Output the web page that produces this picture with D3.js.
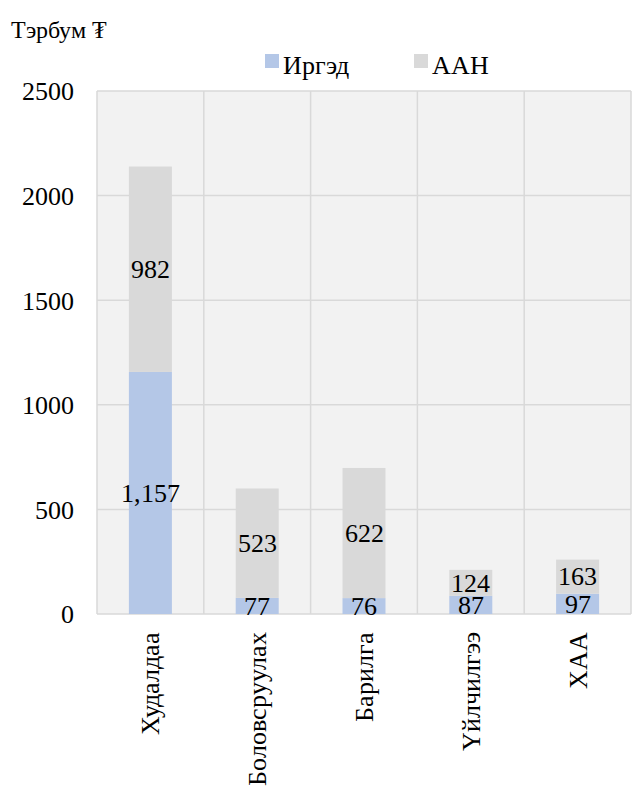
<!DOCTYPE html>
<html>
<head>
<meta charset="utf-8">
<script src="https://cdn.jsdelivr.net/npm/d3@7"></script>
<style>
  @font-face {
    font-family: "ChartSerif";
    src: local("Liberation Serif"), local("LiberationSerif"), local("Liberation Serif Regular"),
         local("Times New Roman"), local("TimesNewRomanPSMT"), local("Tinos"), local("Tinos Regular"),
         local("Nimbus Roman"), local("NimbusRoman-Regular"), local("FreeSerif"), local("DejaVu Serif");
    font-display: swap;
  }
  body { margin: 0; }
  #chart text { font-family: "ChartSerif", "Liberation Serif", "Times New Roman", serif; }
</style>
</head>
<body>
<svg id="chart" width="632" height="787"></svg>
<script>
// Sectors (x-axis categories)
const categories = ["Худалдаа", "Боловсруулах", "Барилга", "Үйлчилгээ", "ХАА"];
// Stacked series values, billions of tugrik
const citizens = [1157, 77, 76, 87, 97];      // Иргэд
const entities = [982, 523, 622, 124, 163];   // ААН
const seriesNames = ["Иргэд", "ААН"];
const yTicks = [0, 500, 1000, 1500, 2000, 2500];
const unitLabel = "Тэрбум ₮";

const colors = ["#b4c7e7", "#d9d9d9"];
const fontSize = 26;

const svg = d3.select("#chart");
const plot = { left: 97, right: 631, top: 91, bottom: 614 };

const x = d3.scaleBand().domain(categories).range([plot.left, plot.right]).paddingInner(0).paddingOuter(0);
const y = d3.scaleLinear().domain([0, 2500]).range([plot.bottom, plot.top]);

// Plot background
svg.append("rect")
  .attr("x", plot.left).attr("y", plot.top)
  .attr("width", plot.right - plot.left).attr("height", plot.bottom - plot.top)
  .attr("fill", "#f2f2f2");

// Horizontal gridlines
svg.append("g").selectAll("line").data(yTicks).join("line")
  .attr("x1", plot.left).attr("x2", plot.right)
  .attr("y1", d => y(d)).attr("y2", d => y(d))
  .attr("stroke", "#d9d9d9").attr("stroke-width", 1.5);

// Vertical gridlines at category boundaries
const bounds = categories.map(c => x(c)).concat([plot.right]);
svg.append("g").selectAll("line").data(bounds).join("line")
  .attr("x1", d => d).attr("x2", d => d)
  .attr("y1", plot.top).attr("y2", plot.bottom)
  .attr("stroke", "#d9d9d9").attr("stroke-width", 1.5);

// Stacked data
const rows = categories.map((c, i) => ({ cat: c, "Иргэд": citizens[i], "ААН": entities[i] }));
const stack = d3.stack().keys(seriesNames)(rows);

const barW = 43;
const layers = svg.append("g").selectAll("g").data(stack).join("g")
  .attr("fill", (d, i) => colors[i]);

layers.selectAll("rect").data(d => d).join("rect")
  .attr("x", d => x(d.data.cat) + x.bandwidth() / 2 - barW / 2)
  .attr("width", barW)
  .attr("y", d => y(d[1]))
  .attr("height", d => y(d[0]) - y(d[1]));

// Value labels centred in each segment
const fmt = d3.format(",");
layers.selectAll("text").data(d => d).join("text")
  .attr("x", d => x(d.data.cat) + x.bandwidth() / 2)
  .attr("y", d => (y(d[0]) + y(d[1])) / 2)
  .attr("text-anchor", "middle")
  .attr("dy", "0.34em")
  .attr("font-size", fontSize)
  .attr("fill", "#000")
  .text(d => fmt(d[1] - d[0]));

// Y axis labels
const yAxis = d3.axisLeft(y).tickValues(yTicks).tickSize(0).tickPadding(23).tickFormat(d3.format("d"));
const yg = svg.append("g").attr("transform", `translate(${plot.left},0)`).call(yAxis);
yg.select(".domain").remove();
yg.attr("font-family", null).attr("font-size", fontSize);
yg.selectAll("text").attr("fill", "#000").attr("dy", "0.34em");

// X axis labels, rotated
svg.append("g").selectAll("text").data(categories).join("text")
  .attr("transform", d => `translate(${x(d) + x.bandwidth() / 2 + 9},632) rotate(-90)`)
  .attr("text-anchor", "end")
  .attr("font-size", fontSize)
  .attr("fill", "#000")
  .text(d => d);

// Unit label
svg.append("text").attr("x", 11).attr("y", 38)
  .attr("font-size", 24).attr("fill", "#000").text(unitLabel);

// Legend
const legendX = [265, 414];
const legend = svg.append("g").selectAll("g").data(seriesNames).join("g")
  .attr("transform", (d, i) => `translate(${legendX[i]},54)`);
legend.append("rect").attr("width", 14).attr("height", 14).attr("fill", (d, i) => colors[i]);
legend.append("text").attr("x", 18).attr("y", 20)
  .attr("font-size", fontSize).attr("fill", "#000").text(d => d);
</script>
</body>
</html>
